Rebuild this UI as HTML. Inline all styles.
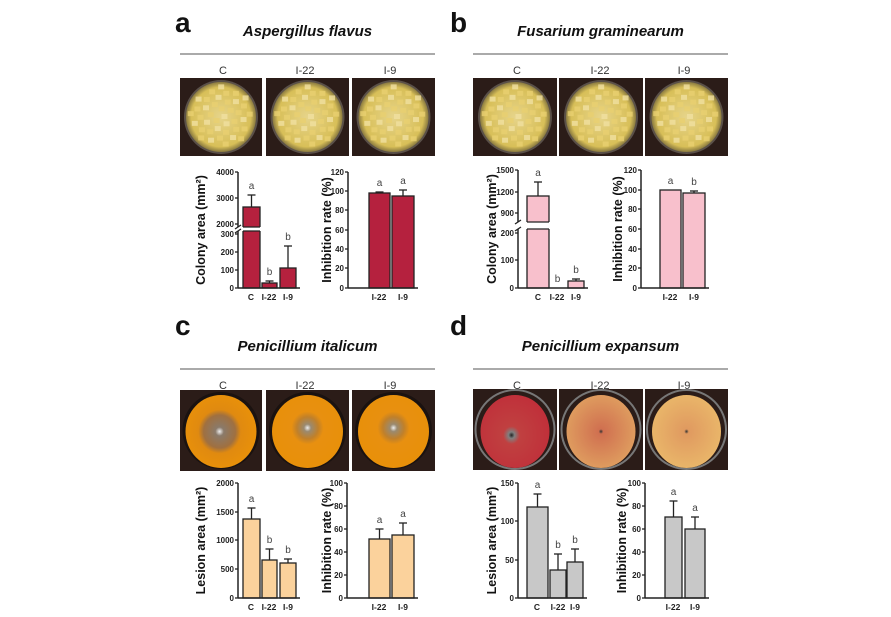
<!DOCTYPE html>
<html><head><meta charset="utf-8"><style>
html,body{margin:0;padding:0;background:#fff;}
svg{display:block;font-family:"Liberation Sans",Arial,sans-serif;}
</style></head><body>
<svg id="s" width="891" height="617" viewBox="0 0 891 617" xmlns="http://www.w3.org/2000/svg">
<defs>
<radialGradient id="corn" cx="50%" cy="50%" r="50%"><stop offset="0" stop-color="#e6d48a"/><stop offset="0.85" stop-color="#d8bf58"/><stop offset="1" stop-color="#8a7a40"/></radialGradient>
<radialGradient id="orangeC" cx="48%" cy="50%" r="50%"><stop offset="0" stop-color="#eee"/><stop offset="0.12" stop-color="#8a7a6a"/><stop offset="0.45" stop-color="#a07040"/><stop offset="0.6" stop-color="#e08a10"/><stop offset="1" stop-color="#e8900a"/></radialGradient>
<radialGradient id="orangeT" cx="50%" cy="45%" r="50%"><stop offset="0" stop-color="#eee"/><stop offset="0.1" stop-color="#9a8a70"/><stop offset="0.3" stop-color="#c0802a"/><stop offset="0.45" stop-color="#e89010"/><stop offset="1" stop-color="#e8900a"/></radialGradient>
<radialGradient id="appleC" cx="45%" cy="55%" r="55%"><stop offset="0" stop-color="#222"/><stop offset="0.08" stop-color="#808080"/><stop offset="0.22" stop-color="#c04040"/><stop offset="1" stop-color="#c0303a"/></radialGradient>
<radialGradient id="appleT" cx="50%" cy="50%" r="55%"><stop offset="0" stop-color="#333"/><stop offset="0.06" stop-color="#d07050"/><stop offset="1" stop-color="#e0a060"/></radialGradient>
<radialGradient id="appleU" cx="50%" cy="50%" r="55%"><stop offset="0" stop-color="#333"/><stop offset="0.06" stop-color="#e09a60"/><stop offset="1" stop-color="#eab86a"/></radialGradient>
</defs>
</svg>
<script>
const s=document.getElementById('s');let h='';
function t(x,y,txt,o){o=o||{};h+=`<text x="${x}" y="${y}" font-size="${o.fs||9}" font-weight="${o.fw||'normal'}" font-style="${o.st||'normal'}" fill="${o.c||'#222'}" text-anchor="${o.a||'middle'}" ${o.tr?'transform="'+o.tr+'"':''}>${txt}</text>`;}
function L(x1,y1,x2,y2,c,w){h+=`<line x1="${x1}" y1="${y1}" x2="${x2}" y2="${y2}" stroke="${c||'#222'}" stroke-width="${w||1.3}"/>`;}
function R(x,y,w,hh,f,st){h+=`<rect x="${x}" y="${y}" width="${w}" height="${hh}" fill="${f}" ${st?'stroke="#222" stroke-width="1.3"':''}/>`;}
function header(lx,ly,letter,title,x0,x1,y0,cols){
 t(lx,ly,letter,{fs:28,fw:'bold',a:'start',c:'#111'});
 t((x0+x1)/2,y0-18,title,{fs:15,fw:'bold',st:'italic',c:'#111'});
 L(x0,y0,x1,y0,'#555',1);
 cols.forEach((c,i)=>t(c,y0+20,['C','I-22','I-9'][i],{fs:11,c:'#333'}));
}
function photo(x,y,w,hh,fill,kind){
 R(x,y,w,hh,'#2b1c18');
 const cx=x+w/2,cy=y+hh/2;
 if(kind=='corn'){h+=`<circle cx="${cx}" cy="${cy}" r="${hh/2-2}" fill="#5a5048"/><circle cx="${cx}" cy="${cy}" r="${hh/2-4}" fill="url(#corn)"/>`;
  for(let i=0;i<40;i++){const a=i*2.4,r=(hh/2-8)*Math.sqrt((i+.5)/40);h+=`<rect x="${cx+r*Math.cos(a)-3}" y="${cy+r*Math.sin(a)-3}" width="6" height="5" fill="${i%3?'#e8d070':'#f0e0a0'}" opacity="0.8"/>`;}
 } else if(kind=='orange'){h+=`<ellipse cx="${cx}" cy="${cy}" rx="${hh/2-2}" ry="${hh/2-2}" fill="#1a1210"/><ellipse cx="${cx}" cy="${cy+1}" rx="${hh/2-5}" ry="${hh/2-4}" fill="${fill}"/>`;}
 else {h+=`<circle cx="${cx}" cy="${cy}" r="${hh/2-1}" fill="none" stroke="#777" stroke-width="2"/><ellipse cx="${cx}" cy="${cy+2}" rx="${hh/2-6}" ry="${hh/2-4}" fill="${fill}"/>`;}
}
function chart(ax,yT,yB,ticks,bars,xl,yl,lx,col,brk){
 bars.forEach(b=>{
  if(b[3]!=null){L((b[0]+b[1])/2,b[3],(b[0]+b[1])/2,b[2]);L((b[0]+b[1])/2-4,b[3],(b[0]+b[1])/2+4,b[3]);}
  if(b[2]<yB-1)R(b[0],b[2],b[1]-b[0],yB-b[2],col,true);
  t((b[0]+b[1])/2,(b[3]!=null?b[3]:b[2])-6,b[4],{fs:10,c:'#444'});
 });
 L(ax,yT,ax,yB,'#222',1.5);L(ax,yB,bars[bars.length-1][1]+4,yB,'#222',1.5);
 ticks.forEach(k=>{L(ax-3,k[1],ax,k[1],'#222',1.3);t(ax-4,k[1]+3,k[0],{fs:8,fw:'bold',a:'end'});});
 xl.forEach(k=>t(k[1],yB+12,k[0],{fs:8.5,fw:'bold'}));
 if(brk){R(ax-6,brk[0],bars[0][1]-ax+8,brk[1]-brk[0],'#fff');L(ax-3,brk[0]+2,ax+3,brk[0]-2);L(ax-3,brk[1]+2,ax+3,brk[1]-2);
  L(bars[0][0],brk[0],bars[0][1],brk[0]);L(bars[0][0],brk[1],bars[0][1],brk[1]);}
 const my=(yT+yB)/2;t(lx,my,yl,{fs:12.5,fw:'bold',tr:`rotate(-90 ${lx} ${my})`,c:'#111'});
}
header(175,32,'a','Aspergillus flavus',180,435,54,[223,305,390]);
[[180,262],[266,349],[352,435]].forEach(p=>photo(p[0],78,p[1]-p[0],78,'','corn'));
chart(238,172,288,[['4000',172],['3000',198],['2000',224],['300',234],['200',252],['100',270],['0',288]],
 [[243,260,207,195,'a'],[262,277,283,281,'b'],[280,296,268,246,'b']],[['C',251],['I-22',269],['I-9',288]],
 'Colony area (mm²)',205,'#b5213e',[227,231]);
chart(348,172,288,[['120',172],['100',191],['80',210],['60',230],['40',249],['20',268],['0',288]],
 [[369,390,193,192,'a'],[392,414,196,190,'a']],[['I-22',379],['I-9',403]],'Inhibition rate (%)',331,'#b5213e');
header(450,32,'b','Fusarium graminearum',473,728,54,[517,600,684]);
[[473,557],[559,643],[645,728]].forEach(p=>photo(p[0],78,p[1]-p[0],78,'','corn'));
chart(518,170,288,[['1500',170],['1200',192],['900',213],['200',233],['100',260],['0',288]],
 [[527,549,196,182,'a'],[549,566,288,null,'b'],[568,584,281,279,'b']],[['C',538],['I-22',557],['I-9',576]],
 'Colony area (mm²)',496,'#f8c0cc',[222,229]);
chart(641,170,288,[['120',170],['100',190],['80',209],['60',229],['40',249],['20',268],['0',288]],
 [[660,681,190,null,'a'],[683,705,193,191,'b']],[['I-22',670],['I-9',694]],'Inhibition rate (%)',622,'#f8c0cc');
header(175,335,'c','Penicillium italicum',180,435,369,[223,305,390]);
photo(180,390,82,81,'url(#orangeC)','orange');photo(266,390,83,81,'url(#orangeT)','orange');photo(352,390,83,81,'url(#orangeT)','orange');
chart(238,483,598,[['2000',483],['1500',512],['1000',540],['500',569],['0',598]],
 [[243,260,519,508,'a'],[262,277,560,549,'b'],[280,296,563,559,'b']],[['C',251],['I-22',269],['I-9',288]],
 'Lesion area (mm²)',205,'#fbd29c');
chart(347,483,598,[['100',483],['80',506],['60',529],['40',552],['20',575],['0',598]],
 [[369,390,539,529,'a'],[392,414,535,523,'a']],[['I-22',379],['I-9',403]],'Inhibition rate (%)',331,'#fbd29c');
header(450,335,'d','Penicillium expansum',473,728,369,[517,600,684]);
photo(473,389,84,81,'url(#appleC)','apple');photo(559,389,84,81,'url(#appleT)','apple');photo(645,389,83,81,'url(#appleU)','apple');
chart(518,483,598,[['150',483],['100',521],['50',560],['0',598]],
 [[527,548,507,494,'a'],[550,566,570,554,'b'],[567,583,562,549,'b']],[['C',537],['I-22',558],['I-9',575]],
 'Lesion area (mm²)',496,'#c8c8c8');
chart(645,483,598,[['100',483],['80',506],['60',529],['40',552],['20',575],['0',598]],
 [[665,682,517,501,'a'],[685,705,529,517,'a']],[['I-22',673],['I-9',695]],'Inhibition rate (%)',626,'#c8c8c8');
s.insertAdjacentHTML('beforeend',h);
</script>
</body></html>
